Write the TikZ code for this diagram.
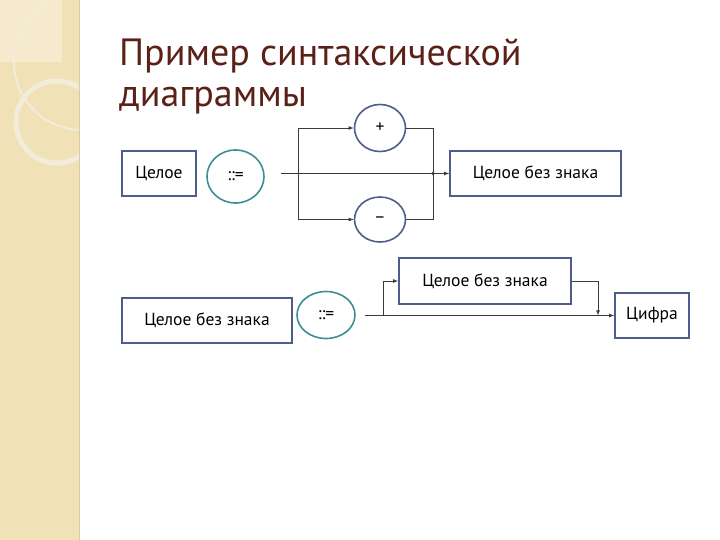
\documentclass[tikz,border=0pt]{standalone}
\usepackage{fontspec}
\setmainfont{PT Sans}
\usepackage{xcolor}
\usetikzlibrary{arrows,shapes.geometric,positioning}

\definecolor{panel}{HTML}{F0E1B7}
\definecolor{panellight}{HTML}{F5EACD}
\definecolor{paneledge}{HTML}{DCCB9E}
\definecolor{ringcol}{HTML}{F3ECDA}
\definecolor{titlecol}{HTML}{5B2118}
\definecolor{boxblue}{HTML}{4E5D8C}
\definecolor{tealcol}{HTML}{3D8D95}
\definecolor{linegray}{HTML}{3A3A3A}

\tikzset{
	box/.style={draw=boxblue,line width=1.6pt,inner sep=0pt,font=\fontsize{17.5}{20}\selectfont},
	oval/.style={ellipse,draw=boxblue,line width=1.6pt,inner sep=0pt,font=\fontsize{17.5}{20}\selectfont},
	defoval/.style={oval,draw=tealcol},
	link/.style={draw=linegray,line width=0.8pt},
}

\begin{document}
\begin{tikzpicture}[x=1pt,y=-1pt]
	\useasboundingbox (0,0) rectangle (720,540);
	% left panel
	\fill[panel] (0,0) rectangle (80,540);
	\fill[panellight] (0,0) rectangle (62,62);
	\begin{scope}
		\clip (0,0) rectangle (80,540);
		\draw[ringcol,line width=2pt] (82,62) circle (68);
		\draw[ringcol,line width=5pt] (57,122) circle (41);
	\end{scope}
	\draw[paneledge,line width=1.5pt] (79.5,0) -- (79.5,540);
	% title
	\node[anchor=base west,text=titlecol,font=\fontsize{38}{44}\selectfont,inner sep=0pt] (title1) at (119,66) {Пример синтаксической};
	\node[anchor=base west,text=titlecol,font=\fontsize{38}{44}\selectfont,inner sep=0pt] (title2) at (119,107) {диаграммы};
	% first diagram
	\node[box,minimum width=74pt,minimum height=45pt] (whole) at (159,173.5) {Целое};
	\node[defoval,minimum width=57pt,minimum height=53pt] (def1) at (235.5,176.5) {::=};
	\node[oval,minimum width=51pt,minimum height=47pt] (plus) at (380,128) {+};
	\node[oval,minimum width=51pt,minimum height=45pt] (minus) at (380,219.5) {–};
	\node[box,minimum width=171pt,minimum height=45pt] (unsigned1) at (535.5,173.5) {Целое без знака};
	\coordinate (start1) at (281,173.5);
	\coordinate (split1) at (298,173.5);
	\coordinate (join1) at (433,173.5);
	\draw[link,-latex] (start1) -- (unsigned1.west);
	\draw[link,-latex] (split1) |- (plus.west);
	\draw[link,-latex] (split1) |- (minus.west);
	\draw[link] (plus.east) -| (join1);
	\draw[link] (minus.east) -| (join1);
	\fill[linegray] (join1) circle (1.8);
	% second diagram
	\node[box,minimum width=170pt,minimum height=45pt] (unsigned2) at (207,320.5) {Целое без знака};
	\node[defoval,minimum width=58pt,minimum height=47pt] (def2) at (326,315) {::=};
	\node[box,minimum width=172pt,minimum height=46pt] (unsigned3) at (485,281) {Целое без знака};
	\node[box,minimum width=74pt,minimum height=45pt] (digit) at (652,315.5) {Цифра};
	\coordinate (start2) at (365,315.5);
	\coordinate (split2) at (383,315.5);
	\coordinate (join2) at (598,315.5);
	\draw[link,-latex] (start2) -- (digit.west);
	\draw[link,-latex] (split2) |- (unsigned3.west);
	\draw[link,-latex] (unsigned3.east) -| (join2);
\end{tikzpicture}
\end{document}
